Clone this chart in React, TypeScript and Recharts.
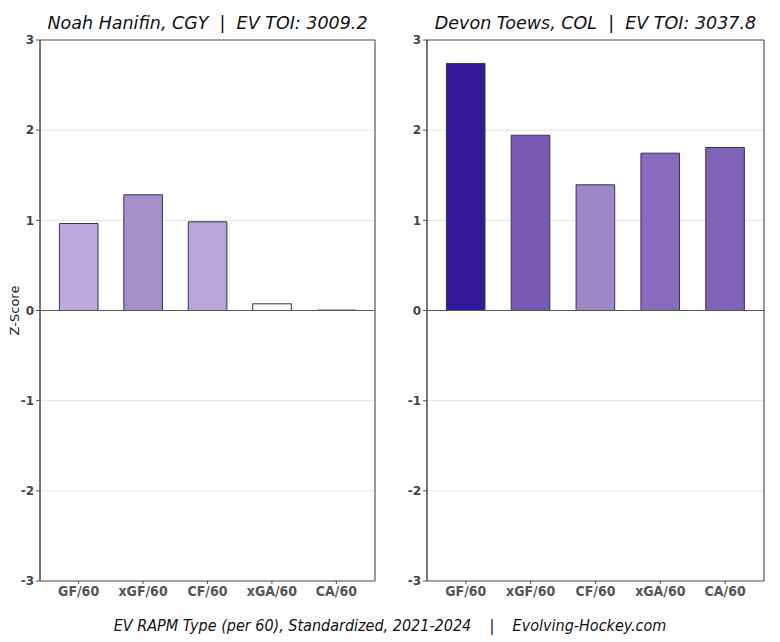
import React from 'react';
import { BarChart, Bar, XAxis, YAxis, CartesianGrid, ReferenceLine, Cell } from 'recharts';

// Categorias del eje X (tipo RAPM por 60)
const metrics = ['GF/60', 'xGF/60', 'CF/60', 'xGA/60', 'CA/60'];
const yTicks = [-3, -2, -1, 0, 1, 2, 3];

// Z-scores
const hanifinValues = [0.965, 1.283, 0.984, 0.074, 0.004];
const hanifinColors = ['#bba9dd', '#a58fcb', '#b9a6d9', '#ffffff', '#3a3050'];

const toewsValues = [2.74, 1.944, 1.394, 1.745, 1.808];
const toewsColors = ['#32189a', '#7759b5', '#9e88c8', '#876bbd', '#8064b8'];

const FONT = "'DejaVu Sans', sans-serif";
const COND = "'DejaVu Sans Condensed', 'DejaVu Sans', sans-serif";

type PanelProps = {
  title: string;
  values: number[];
  colors: string[];
  left: number;
  marginLeft: number;
  marginRight: number;
  showLabel?: boolean;
};

// bordes izquierdo y derecho del area de dibujo (marco del grafico)
const frameEdges = ({ offset }: any) => [offset.left, offset.left + offset.width];

const Panel: React.FC<PanelProps> = ({ title, values, colors, left, marginLeft, marginRight, showLabel }) => {
  const data = metrics.map((m, i) => ({ metric: m, value: values[i] }));
  const plotLeft = marginLeft + 30;
  const plotWidth = 390 - plotLeft - marginRight;

  return (
    <div style={{ position: 'absolute', left, top: 0, width: 390, height: 642 }}>
      <div
        style={{
          position: 'absolute',
          left: plotLeft - 20,
          width: plotWidth + 40,
          top: 11,
          textAlign: 'center',
          fontFamily: FONT,
          fontStyle: 'italic',
          fontSize: 17.5,
          lineHeight: '24px',
          color: '#111',
          whiteSpace: 'pre',
        }}
      >
        {title}
      </div>
      <BarChart
        width={390}
        height={642}
        data={data}
        margin={{ top: 40, right: marginRight, left: marginLeft, bottom: 31 }}
        barCategoryGap={0}
      >
        <CartesianGrid horizontal vertical={false} stroke="#e3e3e3" />
        <CartesianGrid horizontal={false} vertical verticalCoordinatesGenerator={frameEdges} stroke="#555" strokeWidth={1.2} />
        <XAxis
          dataKey="metric"
          padding={{ left: 6.4, right: 6.4 }}
          height={30}
          stroke="#555"
          tickSize={3}
          tick={{ fontSize: 14, fontWeight: 'bold', fill: '#555', fontFamily: COND, style: { fontStretch: 'condensed' } }}
          interval={0}
        />
        <YAxis
          domain={[-3, 3]}
          ticks={yTicks}
          width={30}
          stroke="#555"
          tickSize={4}
          tick={{ fontSize: 12, fontWeight: 'bold', fill: '#444', fontFamily: FONT }}
          label={
            showLabel
              ? { value: 'Z-Score', angle: -90, position: 'insideLeft', offset: 4, style: { textAnchor: 'middle', fontSize: 13, fill: '#222', fontFamily: FONT } }
              : undefined
          }
        />
        <Bar dataKey="value" barSize={38.6} stroke="#3a3050" strokeWidth={1} isAnimationActive={false}>
          {data.map((d, i) => (
            <Cell key={d.metric} fill={colors[i]} />
          ))}
        </Bar>
        <ReferenceLine y={0} stroke="#555" strokeWidth={1.2} />
        <ReferenceLine y={3} stroke="#555" strokeWidth={1.2} />
      </BarChart>
    </div>
  );
};

export default function App() {
  return (
    <div style={{ position: 'absolute', left: 0, top: 0, width: 780, height: 642, background: '#fff' }}>
      <Panel
        title="Noah Hanifin, CGY  |  EV TOI: 3009.2"
        values={hanifinValues}
        colors={hanifinColors}
        left={0}
        marginLeft={10}
        marginRight={15}
        showLabel
      />
      <Panel
        title="Devon Toews, COL  |  EV TOI: 3037.8"
        values={toewsValues}
        colors={toewsColors}
        left={390}
        marginLeft={7}
        marginRight={16}
      />
      <div
        style={{
          position: 'absolute',
          left: 0,
          width: 780,
          top: 616,
          textAlign: 'center',
          fontFamily: COND,
          fontStretch: 'condensed',
          fontStyle: 'italic',
          fontSize: 16,
          lineHeight: '20px',
          color: '#111',
          whiteSpace: 'pre',
        }}
      >
        {'EV RAPM Type (per 60), Standardized, 2021-2024    |    Evolving-Hockey.com'}
      </div>
    </div>
  );
}
